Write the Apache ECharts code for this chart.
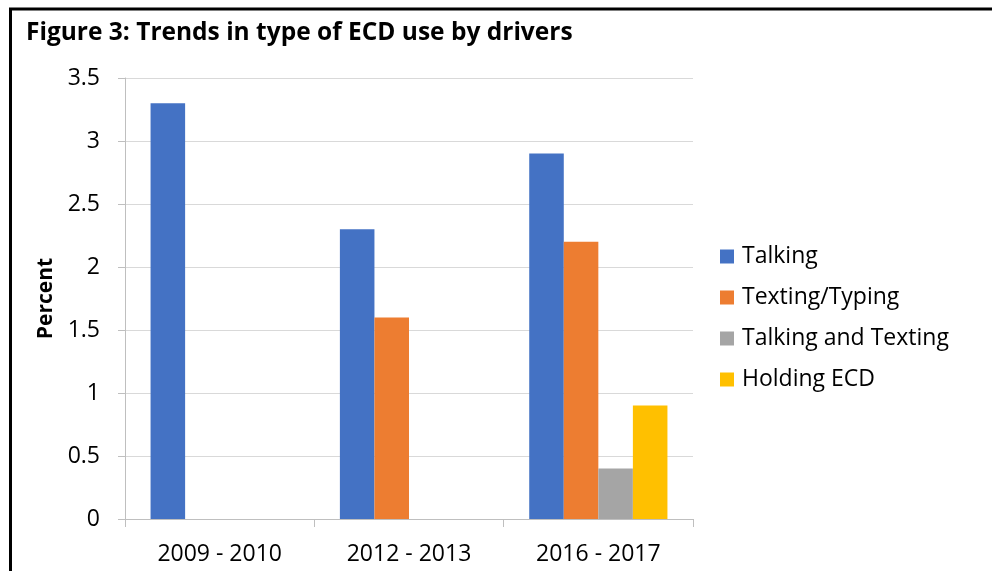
<!DOCTYPE html>
<html><head><meta charset="utf-8">
<script src="https://cdn.jsdelivr.net/npm/echarts@6/dist/echarts.min.js"></script>
<style>html,body{margin:0;padding:0;background:#fff}#c{width:992px;height:571px}</style>
</head><body><div id="c"></div>
<script>
const categories = ['2009 - 2010', '2012 - 2013', '2016 - 2017'];
const seriesNames = ['Talking', 'Texting/Typing', 'Talking and Texting', 'Holding ECD'];
const talking = [3.3, 2.3, 2.9];
const textingTyping = [0, 1.6, 2.2];
const talkingAndTexting = [0, 0, 0.4];
const holdingECD = [0, 0, 0.9];
const colors = ['#4472C4', '#ED7D31', '#A5A5A5', '#FFC000'];
const FONT = '"Open Sans", sans-serif';
const allData = [talking, textingTyping, talkingAndTexting, holdingECD];

const chart = echarts.init(document.getElementById('c'), null, {renderer: 'canvas'});
chart.setOption({
  animation: false,
  title: {
    text: 'Figure 3: Trends in type of ECD use by drivers',
    left: 21, top: 16,
    textStyle: {fontFamily: FONT, fontSize: 24.5, fontWeight: 'bold', color: '#000'}
  },
  graphic: [{
    type: 'rect', silent: true,
    shape: {x: 10.5, y: 9, width: 1100, height: 700},
    style: {fill: 'none', stroke: '#000', lineWidth: 3}
  }],
  legend: {
    orient: 'vertical', left: 720, top: 245, padding: 0,
    icon: 'rect', itemWidth: 14, itemHeight: 14, itemGap: 18,
    textStyle: {fontFamily: FONT, fontSize: 23, lineHeight: 23, color: '#000', padding: [0, 0, 0, 3]},
    data: seriesNames
  },
  grid: {left: 125, right: 299, top: 78, bottom: 52, containLabel: false},
  xAxis: {
    type: 'category', data: categories,
    axisLine: {lineStyle: {color: '#bfbfbf', width: 1}},
    axisTick: {show: true, length: 8, lineStyle: {color: '#bfbfbf'}},
    axisLabel: {fontFamily: FONT, fontSize: 23, color: '#000', margin: 24}
  },
  yAxis: {
    type: 'value', min: 0, max: 3.5, interval: 0.5,
    name: 'Percent', nameLocation: 'middle', nameGap: 67, nameRotate: 90,
    nameTextStyle: {fontFamily: FONT, fontSize: 21, fontWeight: 'bold', color: '#000'},
    axisLine: {show: true, lineStyle: {color: '#bfbfbf'}},
    axisTick: {show: true, length: 7, lineStyle: {color: '#bfbfbf'}},
    splitLine: {lineStyle: {color: '#d9d9d9'}},
    axisLabel: {fontFamily: FONT, fontSize: 23, color: '#000', margin: 25}
  },
  series: seriesNames.map((n, i) => ({
    name: n, type: 'bar', data: allData[i],
    itemStyle: {color: colors[i]},
    barGap: '0%', barCategoryGap: '27%'
  }))
});
</script></body></html>
